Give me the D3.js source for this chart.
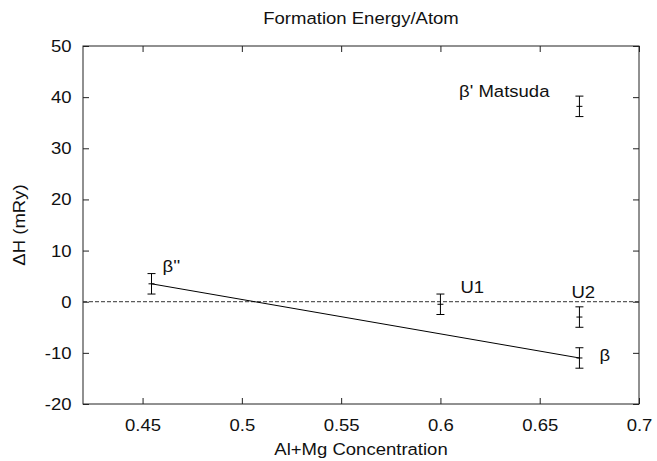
<!DOCTYPE html>
<html>
<head>
<meta charset="utf-8">
<script src="https://cdn.jsdelivr.net/npm/d3@7"></script>
<style>
  body { margin: 0; background: #fff; }
  text { font-family: "Liberation Sans", Arial, sans-serif; fill: #111; }
</style>
</head>
<body>
<div class="canvas"></div>
<script>
// data
const phases = ["β''", 'U1', 'U2', 'β', "β' Matsuda"];
const conc = [0.4545, 0.6, 0.67, 0.67, 0.67];
const energy = [3.5, -0.5, -3, -11, 38.2];
const errors = [2, 2, 2, 2, 2];
// tie line between the two stable phases
const tieLine = ["β''", 'β'];
const xTicks = [0.45, 0.5, 0.55, 0.6, 0.65, 0.7];
const yTicks = [-20, -10, 0, 10, 20, 30, 40, 50];

const points = phases.map((p, i) => ({ phase: p, x: conc[i], y: energy[i], err: errors[i] }));

// label placement, pixel offsets from each point
const labelOffset = {
    "β''": [11, -12, 'start'],
    'U1': [20, -11, 'start'],
    'U2': [-8, -19, 'start'],
    'β': [20, 3, 'start'],
    "β' Matsuda": [-30, -9, 'end']
};

const stretch = 'scale(1.09,1)';
const fontSize = 17;

const margin = { top: 46, right: 18, bottom: 57, left: 83 };
const graphWidth = 657 - margin.left - margin.right;
const graphHeight = 461 - margin.top - margin.bottom;

const svg = d3.select('.canvas')
    .append('svg')
    .attr('width', 657)
    .attr('height', 461);

const graph = svg.append('g')
    .attr('transform', `translate(${margin.left},${margin.top})`);

//scales
const x = d3.scaleLinear().domain([0.42, 0.7]).range([0, graphWidth]);
const y = d3.scaleLinear().domain([-20, 50]).range([graphHeight, 0]);

// axes, ticks pointing inwards on all four sides
const xAxis = d3.axisBottom(x).tickValues(xTicks).tickFormat(d => d)
    .tickSizeInner(-6).tickSizeOuter(0).tickPadding(15);
const yAxis = d3.axisLeft(y).tickValues(yTicks).tickFormat(d => d)
    .tickSizeInner(-6).tickSizeOuter(0).tickPadding(10.5);
const xAxisTop = d3.axisTop(x).tickValues(xTicks).tickFormat('')
    .tickSizeInner(-6).tickSizeOuter(0);
const yAxisRight = d3.axisRight(y).tickValues(yTicks).tickFormat('')
    .tickSizeInner(-6).tickSizeOuter(0);

const xAxisGroup = graph.append('g').attr('transform', `translate(0,${graphHeight})`).call(xAxis);
const yAxisGroup = graph.append('g').call(yAxis);
graph.append('g').call(xAxisTop);
graph.append('g').attr('transform', `translate(${graphWidth},0)`).call(yAxisRight);

graph.selectAll('.domain').remove();
graph.selectAll('.tick line').attr('stroke', '#222');
[xAxisGroup, yAxisGroup].forEach(g => g.selectAll('text')
    .style('font-size', fontSize + 'px')
    .style('font-family', '"Liberation Sans", Arial, sans-serif')
    .attr('fill', '#111')
    .attr('transform', stretch));

// frame
graph.append('rect')
    .attr('width', graphWidth)
    .attr('height', graphHeight)
    .attr('fill', 'none')
    .attr('stroke', '#222')
    .attr('stroke-width', 1);

// zero line
graph.append('line')
    .attr('x1', 0).attr('x2', graphWidth)
    .attr('y1', y(0)).attr('y2', y(0))
    .attr('stroke', '#333')
    .attr('stroke-dasharray', '4,2');

// tie line
const line = d3.line().x(d => x(d.x)).y(d => y(d.y));
graph.append('path')
    .datum(points.filter(d => tieLine.includes(d.phase)).sort((a, b) => a.x - b.x))
    .attr('fill', 'none')
    .attr('stroke', '#000')
    .attr('stroke-width', 1)
    .attr('d', line);

// error bars
const bars = graph.selectAll('.err')
    .data(points)
    .enter()
    .append('g')
    .attr('class', 'err')
    .attr('stroke', '#000')
    .attr('stroke-width', 1);

bars.append('line')
    .attr('x1', d => x(d.x)).attr('x2', d => x(d.x))
    .attr('y1', d => y(d.y - d.err)).attr('y2', d => y(d.y + d.err));
bars.append('line')
    .attr('x1', d => x(d.x) - 4).attr('x2', d => x(d.x) + 4)
    .attr('y1', d => y(d.y + d.err)).attr('y2', d => y(d.y + d.err));
bars.append('line')
    .attr('x1', d => x(d.x) - 4).attr('x2', d => x(d.x) + 4)
    .attr('y1', d => y(d.y - d.err)).attr('y2', d => y(d.y - d.err));
bars.append('line')
    .attr('x1', d => x(d.x) - 3).attr('x2', d => x(d.x) + 3)
    .attr('y1', d => y(d.y)).attr('y2', d => y(d.y));

// phase labels
graph.selectAll('.label')
    .data(points)
    .enter()
    .append('text')
    .attr('class', 'label')
    .attr('text-anchor', d => labelOffset[d.phase][2])
    .attr('transform', d => `translate(${x(d.x) + labelOffset[d.phase][0]},${y(d.y) + labelOffset[d.phase][1]}) ${stretch}`)
    .style('font-size', fontSize + 'px')
    .text(d => d.phase);

// title and axis titles
svg.append('text')
    .attr('text-anchor', 'middle')
    .attr('transform', `translate(${margin.left + graphWidth / 2},24) ${stretch}`)
    .style('font-size', fontSize + 'px')
    .text('Formation Energy/Atom');

svg.append('text')
    .attr('text-anchor', 'middle')
    .attr('transform', `translate(${margin.left + graphWidth / 2},455) ${stretch}`)
    .style('font-size', fontSize + 'px')
    .text('Al+Mg Concentration');

svg.append('text')
    .attr('text-anchor', 'middle')
    .attr('transform', `translate(25,${margin.top + graphHeight / 2}) rotate(-90) ${stretch}`)
    .style('font-size', fontSize + 'px')
    .text('ΔH (mRy)');
</script>
</body>
</html>
